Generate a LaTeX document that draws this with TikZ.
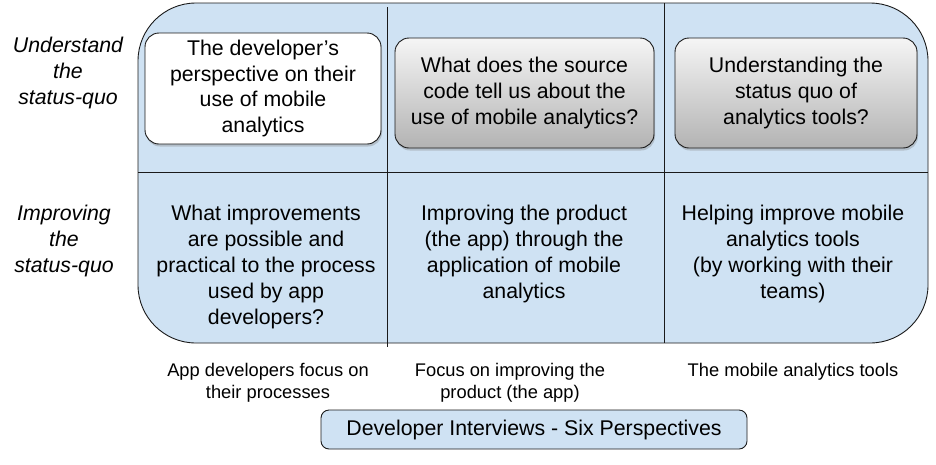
\documentclass[tikz,border=0pt]{standalone}
\usepackage{fontspec}
\setmainfont{Liberation Sans}
\usepackage{xcolor}
\usepackage{tikz}
\usetikzlibrary{shadows}
\definecolor{cellblue}{HTML}{CFE2F3}
\definecolor{edgedark}{HTML}{1A1A1A}
\definecolor{shadetop}{HTML}{F5F5F5}
\definecolor{shadebottom}{HTML}{B3B3B3}
\colorlet{gridline}{edgedark}
\tikzset{every node/.append style={font=\fontsize{21.3}{25.8}\selectfont, align=center, inner sep=0pt}}
\tikzset{
  questionbox/.style={draw=edgedark, rounded corners=14pt,
    drop shadow={shadow xshift=1pt, shadow yshift=-2.5pt, opacity=0.35}},
  plainq/.style={questionbox, fill=white},
  shadedq/.style={questionbox, top color=shadetop, bottom color=shadebottom},
  rowlabel/.style={font=\fontsize{21.3}{25.8}\selectfont\itshape},
  footlabel/.style={font=\fontsize{18.3}{22}\selectfont}
}

\begin{document}
\begin{tikzpicture}[x=1pt, y=-1pt, line width=0.9pt]
    \useasboundingbox (0,0) rectangle (936,464);

    % Outer panel holding the six perspectives
    \draw[fill=cellblue, draw=edgedark, rounded corners=58pt] (138,3) rectangle (928,343);

    % Grid lines splitting the panel
    \draw[gridline] (387,7) -- (387,347);
    \draw[gridline] (664,3) -- (664,343);
    \draw[gridline] (138,172) -- (928,172);

    % Row labels on the left
    \node[rowlabel] (understand) at (68,73) {Understand\\the\\status-quo};
    \node[rowlabel] (improving) at (64,241) {Improving\\the\\status-quo};

    % Questions in the top row
    \node[plainq, minimum width=236pt, minimum height=111pt] (devview) at (263,88.5)
        {The developer’s\\perspective on their\\use of mobile\\analytics};
    \node[shadedq, minimum width=259pt, minimum height=110pt] (codeview) at (524.5,93)
        {What does the source\\code tell us about the\\use of mobile analytics?};
    \node[shadedq, minimum width=242pt, minimum height=110pt] (toolview) at (796,93)
        {Understanding the\\status quo of\\analytics tools?};

    % Aims in the bottom row
    \node (processaim) at (266,267) {What improvements\\are possible and\\practical to the process\\used by app\\developers?};
    \node (productaim) at (524,254) {Improving the product\\(the app) through the\\application of mobile\\analytics};
    \node (toolaim) at (793,254) {Helping improve mobile\\analytics tools\\(by working with their\\teams)};

    % Column captions under the panel
    \node[footlabel] (processcap) at (268,383) {App developers focus on\\their processes};
    \node[footlabel] (productcap) at (510,383) {Focus on improving the\\product (the app)};
    \node[footlabel] (toolcap) at (793,371.5) {The mobile analytics tools};

    % Title box
    \node[draw=edgedark, fill=cellblue, rounded corners=8pt, minimum width=426pt, minimum height=39pt]
        (title) at (534,429.5) {Developer Interviews - Six Perspectives};
\end{tikzpicture}
\end{document}
